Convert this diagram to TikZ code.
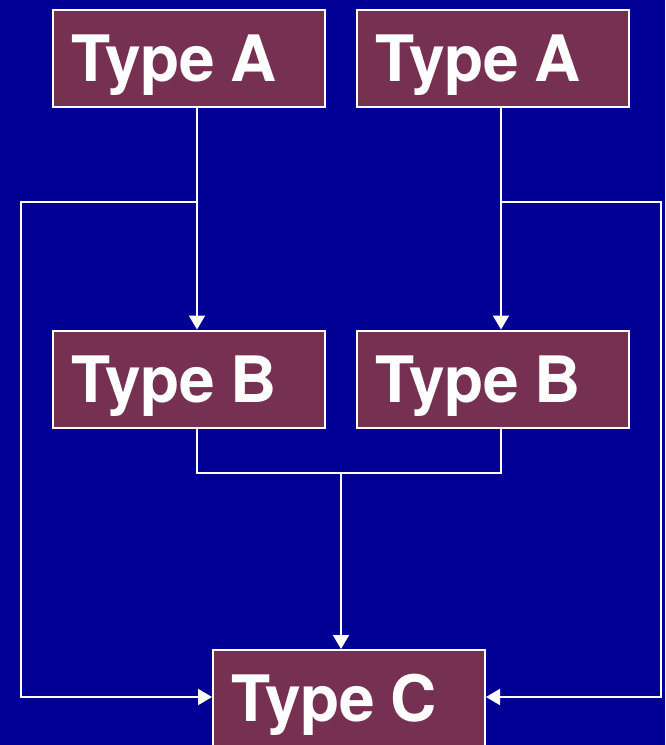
\documentclass[tikz,border=0pt]{standalone}
\usepackage{fontspec}
\setmainfont{TeX Gyre Heros}
\usetikzlibrary{arrows.meta}
\definecolor{bgblue}{RGB}{0,0,148}
\definecolor{boxred}{RGB}{118,48,82}
\begin{document}
\begin{tikzpicture}[x=1pt,y=-1pt,
  typebox/.style={draw=white,line width=2pt,fill=boxred,text=white,
    minimum width=272pt,minimum height=97pt,inner xsep=18pt,inner ysep=0pt,
    text width=236pt,align=left,
    font=\fontsize{64}{64}\selectfont\bfseries,
    execute at begin node={\spaceskip=0.24em\relax},
    text height=46pt,text depth=0pt},
  conn/.style={draw=white,line width=2pt},
  arr/.style={conn,-{Triangle[length=14pt,width=16pt]}}]
\fill[bgblue] (0,0) rectangle (665,745);
\useasboundingbox (0,0) rectangle (665,745);
\begin{scope}
\clip (0,0) rectangle (665,745);
\node[typebox] (a1) at (189,58.5) {Type A};
\node[typebox] (a2) at (493,58.5) {Type A};
\node[typebox] (b1) at (189,379) {Type B};
\node[typebox] (b2) at (493,379) {Type B};
\node[typebox] (c) at (349,698.5) {Type C};
\coordinate (la) at (197,202);
\coordinate (ra) at (501,202);
\coordinate (lb) at (197,473);
\coordinate (rb) at (501,473);
\coordinate (mb) at (341,473);
\coordinate (lcorner1) at (21,202);
\coordinate (lcorner2) at (21,697);
\coordinate (rcorner1) at (661,202);
\coordinate (rcorner2) at (661,697);
\draw[arr] (a1.south -| la) -- (b1.north -| la);
\draw[arr] (a2.south -| ra) -- (b2.north -| ra);
\draw[arr] (la) -- (lcorner1) -- (lcorner2) -- (c.west |- lcorner2);
\draw[arr] (ra) -- (rcorner1) -- (rcorner2) -- (c.east |- rcorner2);
\draw[conn] (b1.south -| lb) -- (lb) -- (rb) -- (b2.south -| rb);
\draw[arr] (mb) -- (c.north -| mb);
\end{scope}
\end{tikzpicture}
\end{document}
